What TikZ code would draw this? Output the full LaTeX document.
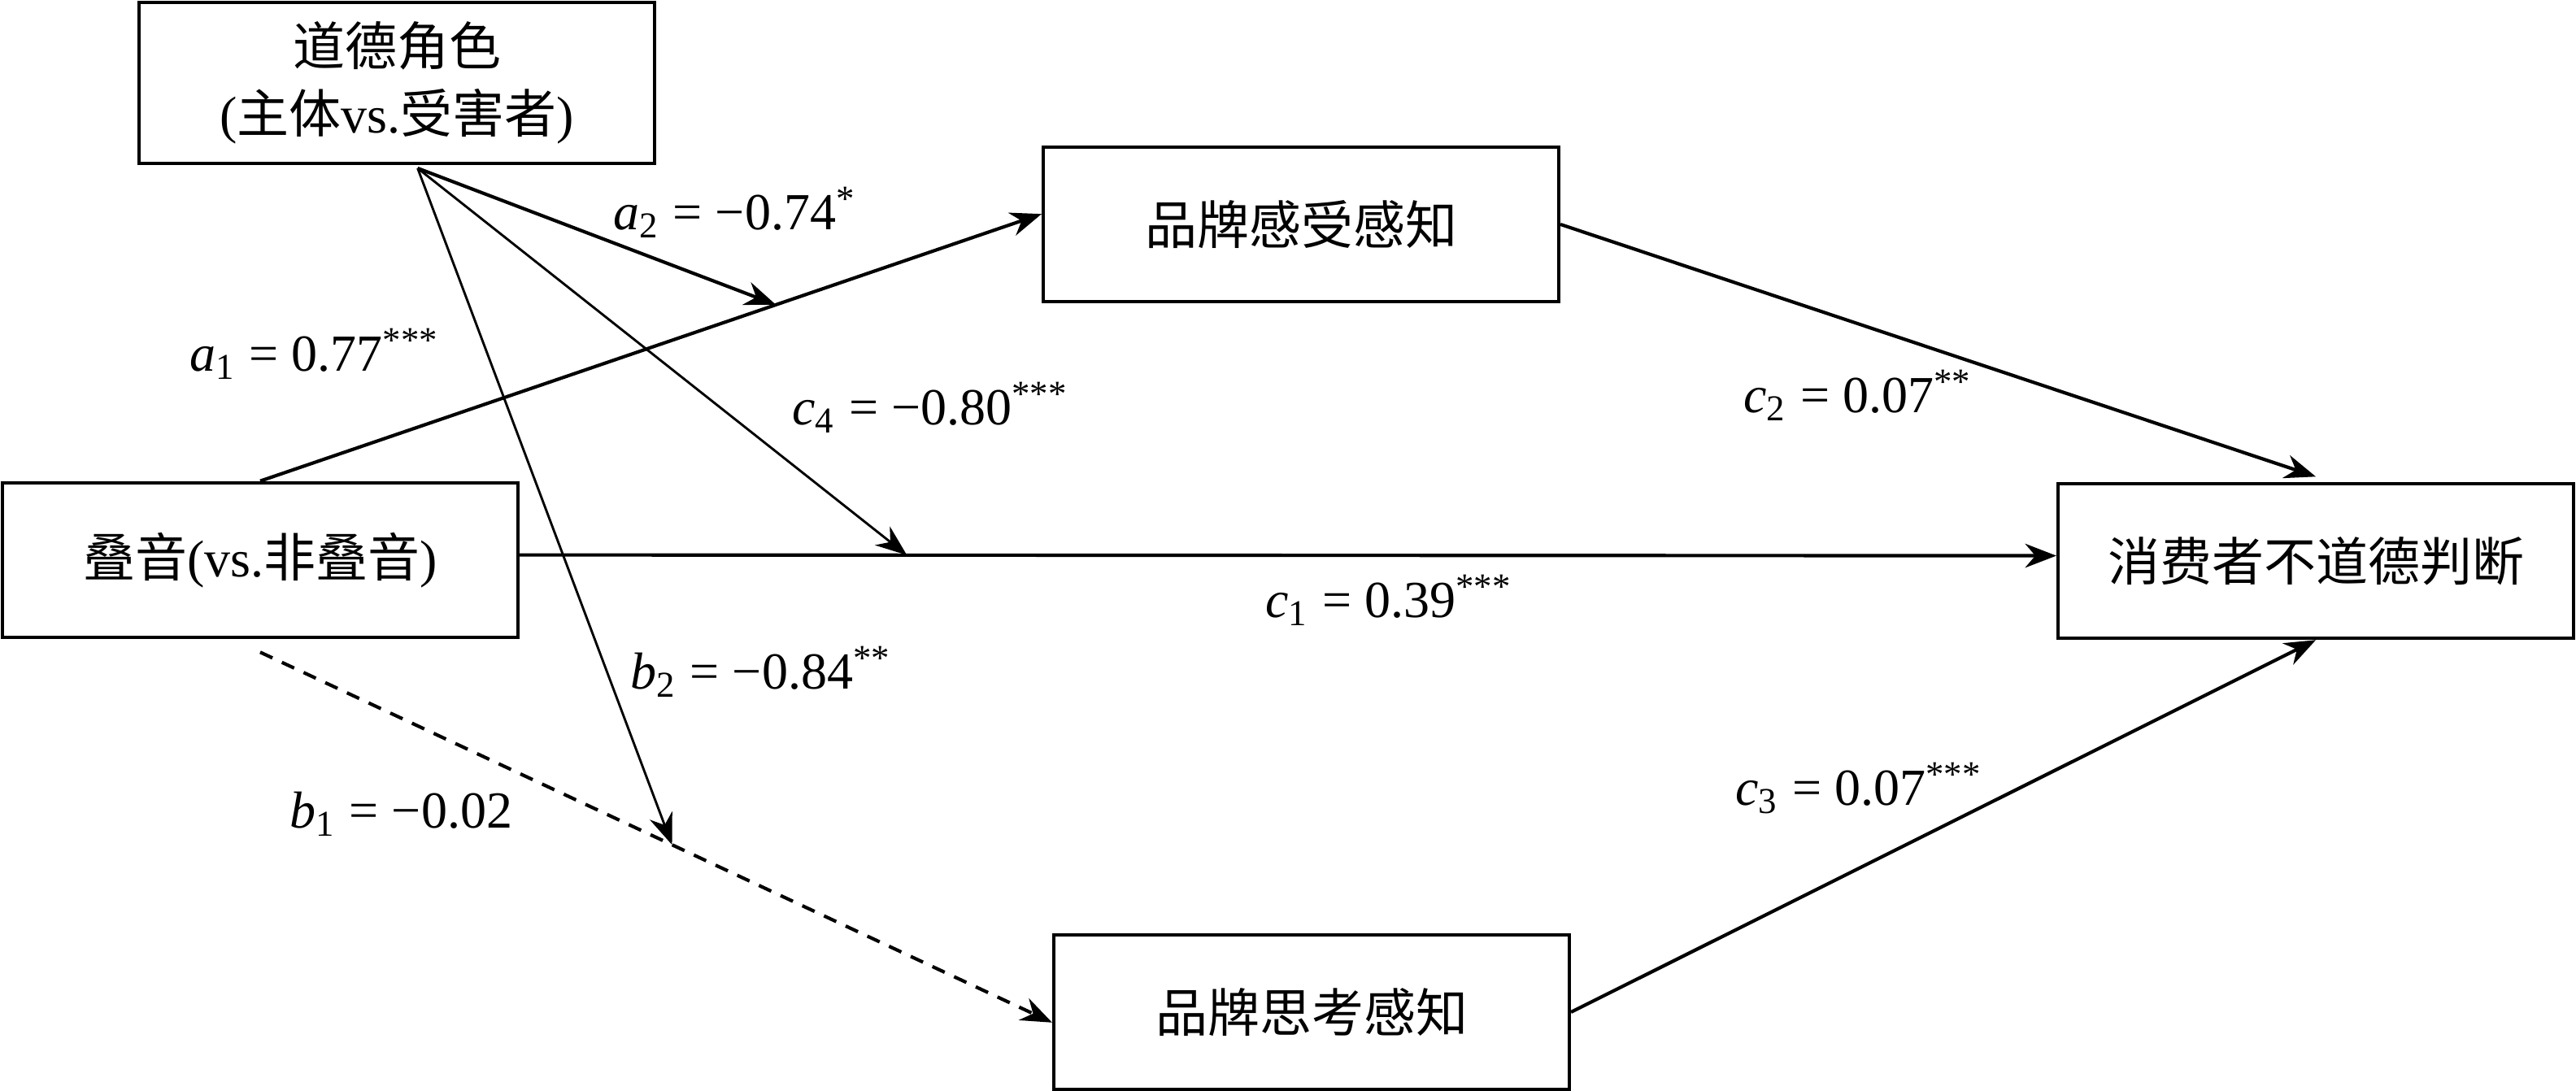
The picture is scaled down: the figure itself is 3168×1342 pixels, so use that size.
\documentclass[tikz,border=0pt]{standalone}
\usepackage{fontspec}
\setmainfont{Liberation Serif}
\newfontfamily\zhfont{Noto Sans CJK SC}
\newcommand{\zh}[1]{{\zhfont #1}}
\newcommand{\coef}[4]{\textit{#1}\textsubscript{#2} = #3\textsuperscript{#4}}
\usetikzlibrary{arrows.meta}

\begin{document}
\begin{tikzpicture}[x = .15625pt, y = -.15625pt,
        box/.style = {draw, line width=.7pt, minimum width=99pt, minimum height=29.7pt,
          inner sep=0pt, align=center, font=\fontsize{10}{13}\selectfont},
        link/.style = {line width=.65pt, -{Stealth[length=6pt, width=4.6pt]}},
        thinlink/.style = {link, line width=.45pt},
        dashlink/.style = {link, dash pattern=on 2.6pt off 2pt},
        lbl/.style = {inner sep=0pt, anchor=base west, font=\fontsize{10}{12}\selectfont}]
        \useasboundingbox (0,0) rectangle (3168,1342);
        % boxes
        \node[box, minimum height=30.9pt] (moral) at (488,102) {\zh{道德角色}\\(\zh{主体}vs.\zh{受害者})};
        \node[box] (redup) at (320,689) {\zh{叠音}(vs.\zh{非叠音})};
        \node[box] (brandfeel) at (1600,276) {\zh{品牌感受感知}};
        \node[box] (judge) at (2848,690) {\zh{消费者不道德判断}};
        \node[box] (brandthink) at (1613,1245) {\zh{品牌思考感知}};
        \coordinate (fan) at ([xshift=4pt, yshift=-.6pt]moral.south);
        % paths
        \draw[link] (redup.north) -- coordinate[pos=.66] (hita) ([yshift=2pt]brandfeel.west);
        \draw[link] ([yshift=1pt]redup.east) -- coordinate[pos=.252] (hitc) ([yshift=1pt]judge.west);
        \draw[dashlink] ([yshift=-2.5pt]redup.south) -- coordinate[pos=.52] (hitb) ([yshift=-2pt]brandthink.west);
        \draw[link] (brandfeel.east) -- ([yshift=1pt]judge.north);
        \draw[link] (brandthink.east) -- (judge.south);
        \draw[link] (fan) -- (hita);
        \draw[thinlink] (fan) -- (hitc);
        \draw[thinlink] (fan) -- (hitb);
        % coefficients
        \node[lbl] (la1) at (232,457) {\coef{a}{1}{0.77}{***}};
        \node[lbl] (la2) at (753,283) {\coef{a}{2}{−0.74}{*}};
        \node[lbl] (lc4) at (973,523) {\coef{c}{4}{−0.80}{***}};
        \node[lbl] (lc2) at (2143,508) {\coef{c}{2}{0.07}{**}};
        \node[lbl] (lc1) at (1555,760) {\coef{c}{1}{0.39}{***}};
        \node[lbl] (lb2) at (774,848) {\coef{b}{2}{−0.84}{**}};
        \node[lbl] (lb1) at (355,1019) {\coef{b}{1}{−0.02}{}};
        \node[lbl] (lc3) at (2133,991) {\coef{c}{3}{0.07}{***}};
      \end{tikzpicture}
\end{document}
